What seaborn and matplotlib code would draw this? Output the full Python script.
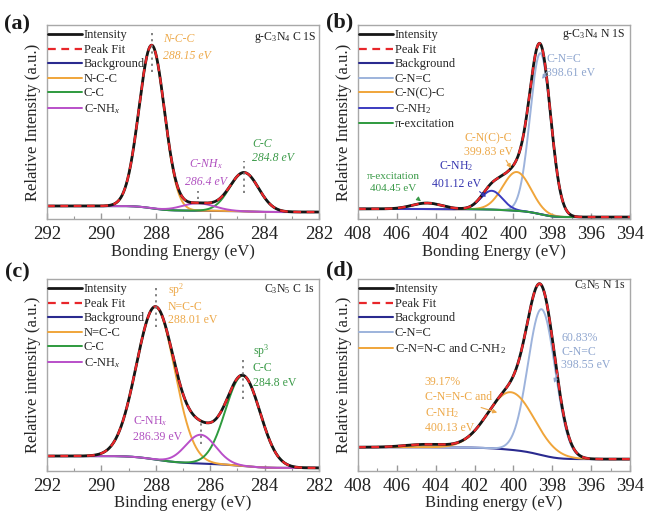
import numpy as np
import pandas as pd
import matplotlib
matplotlib.use('Agg')
import matplotlib.pyplot as plt
import seaborn as sns
from matplotlib.ticker import MultipleLocator

sns.set_theme(style='white')
plt.rcParams['font.family'] = ['Liberation Serif', 'DejaVu Serif']
plt.rcParams['mathtext.fontset'] = 'custom'
plt.rcParams['mathtext.rm'] = 'Liberation Serif'
plt.rcParams['mathtext.it'] = 'Liberation Serif:italic'
plt.rcParams['mathtext.bf'] = 'Liberation Serif:bold'

# ---------------- data (peak-fit parameters) ----------------
# (a) g-C3N4 C 1S
a_names = ['N-C-C', 'C-C', 'C-NH$_x$']
a_centers = [288.15, 284.75, 286.45]
a_heights = [84.0, 20.0, 3.8]
a_fwhm = [1.1, 1.25, 1.4]
a_bg = [6.7, 3.6]            # high-BE level, low-BE level
a_range = [292, 282]

# (b) g-C3N4 N 1S
b_names = ['C-N=C', 'C-N(C)-C', 'C-NH$_2$', 'π-excitation']
b_centers = [398.61, 399.83, 401.12, 404.45]
b_heights = [83.0, 20.0, 9.7, 3.1]
b_fwhm = [1.25, 1.7, 1.3, 1.8]
b_bg = [5.2, 1.0]
b_range = [408, 394]

# (c) C3N5 C 1s
c_names = ['N=C-C', 'C-C', 'C-NH$_x$']
c_centers = [288.01, 284.8, 286.35]
c_heights = [79.5, 47.0, 15.0]
c_fwhm = [1.65, 1.5, 1.3]
c_bg = [7.8, 1.6]
c_range = [292, 282]

# (d) C3N5 N 1s
d_names = ['C-N=C', 'C-N=N-C and C-NH$_2$']
d_centers = [398.55, 400.13]
d_heights = [76.0, 30.0]
d_fwhm = [1.65, 2.8]
d_extra = [404.5, 1.5, 2.5]  # small unassigned bump included only in the fit sum
d_bg = [12.4, 6.2]
d_range = [408, 394]

COL = {
    'int': '#161616', 'fit': '#e8262a', 'bg': '#2a2a8f',
    'orange': '#f0a53a', 'green': '#2e9a3e', 'magenta': '#b94fc9',
    'lblue': '#9db3dc', 'blue': '#3b3bc0',
}
TXT = {'orange': '#eda94a', 'green': '#3a9a48', 'magenta': '#b050c0',
       'lblue': '#8fa6cf', 'blue': '#3535b0'}


def gauss(x, c, h, w):
    return h * np.exp(-4 * np.log(2) * ((x - c) / w) ** 2)


def model(rng, centers, heights, fwhms, bg, extra=None):
    x = np.linspace(rng[0], rng[1], 800)
    comps = [gauss(x, c, h, w) for c, h, w in zip(centers, heights, fwhms)]
    tot = np.sum(comps, axis=0)
    if extra is not None:
        tot = tot + gauss(x, *extra)
    order = np.argsort(x)
    cum = np.cumsum(tot[order])
    frac = cum / cum[-1]
    bgv = np.empty_like(x)
    bgv[order] = bg[1] + (bg[0] - bg[1]) * frac
    return x, comps, bgv, bgv + tot


fig = plt.figure(figsize=(6.46, 5.15), dpi=100)
W, H = 646, 515


def make_ax(l, r, t, b):
    return fig.add_axes([l / W, 1 - b / H, (r - l) / W, (b - t) / H])


ax_a = make_ax(47, 319, 25, 219)
ax_b = make_ax(358, 630, 25, 219)
ax_c = make_ax(47, 319, 279, 471)
ax_d = make_ax(358, 630, 279, 471)


def draw(ax, rng, names, centers, heights, fwhms, bg, colors, extra=None):
    x, comps, bgv, tot = model(rng, centers, heights, fwhms, bg, extra)
    sns.lineplot(x=x, y=bgv, ax=ax, color=COL['bg'], lw=1.5, label='Background',
                 sort=False, estimator=None)
    for comp, nm, cl in zip(comps, names, colors):
        sns.lineplot(x=x, y=comp + bgv, ax=ax, color=COL[cl], lw=1.4, label=nm,
                     sort=False, estimator=None)
    sns.lineplot(x=x, y=tot, ax=ax, color=COL['int'], lw=2.0, label='Intensity',
                 sort=False, estimator=None)
    sns.lineplot(x=x, y=tot, ax=ax, color=COL['fit'], lw=1.6, label='Peak Fit',
                 sort=False, estimator=None, linestyle=(0, (3.5, 2.5)))
    h, l = ax.get_legend_handles_labels()
    want = ['Intensity', 'Peak Fit', 'Background'] + names
    hh = [h[l.index(w)] for w in want]
    ax.legend(hh, want, loc='upper left', frameon=False, fontsize=9,
              handlelength=2.7, handletextpad=0.15, labelspacing=0.2,
              borderaxespad=0.0, borderpad=0.35, bbox_to_anchor=(-0.012, 1.0))
    ax.set_xlim(rng[0], rng[1])
    ax.set_ylim(0, 100)
    ax.set_yticks([])
    ax.xaxis.set_major_locator(MultipleLocator(2))
    ax.xaxis.set_minor_locator(MultipleLocator(1))
    ax.tick_params(axis='x', which='both', direction='in', bottom=True, top=False,
                   colors='#999999', labelcolor='#222222', labelsize=13.5, pad=5)
    ax.tick_params(axis='x', which='major', length=4, width=1)
    ax.tick_params(axis='x', which='minor', length=2.5, width=0.8)
    for s in ax.spines.values():
        s.set_color('#a8a8a8')
        s.set_linewidth(1.0)
    return x, tot, bgv


def vdots(ax, c, lo, hi):
    ax.vlines(c, lo, hi, colors='#777777', linestyles=(0, (1.2, 2.2)), lw=1.3)


# ---------- (a) ----------
draw(ax_a, a_range, a_names, a_centers, a_heights, a_fwhm, a_bg,
     ['orange', 'green', 'magenta'])
ax_a.set_xlabel('Bonding Energy (eV)', fontsize=12, labelpad=1)
ax_a.set_ylabel('Relative Intensity (a.u.)', fontsize=12, labelpad=4)
ax_a.text(0.99, 0.935, 'g-C$_3$N$_4$ C 1S', transform=ax_a.transAxes, ha='right',
          va='center', fontsize=8.5, color='#222222')
ax_a.text(287.75, 88.5, 'N-C-C\n288.15 eV', color=TXT['orange'], fontsize=8.5,
          style='italic', ha='left', va='center', linespacing=1.6)
ax_a.text(286.15, 24, 'C-NH$_x$\n286.4 eV', color=TXT['magenta'], fontsize=8.5,
          style='italic', ha='center', va='center', linespacing=1.6)
ax_a.text(284.46, 35, 'C-C\n284.8 eV', color=TXT['green'], fontsize=8.5,
          style='italic', ha='left', va='center', linespacing=1.3)
vdots(ax_a, a_centers[0], 76, 98)
vdots(ax_a, a_centers[2], 10.5, 14.5)
vdots(ax_a, a_centers[1], 13.5, 30)

# ---------- (b) ----------
draw(ax_b, b_range, b_names, b_centers, b_heights, b_fwhm, b_bg,
     ['lblue', 'orange', 'blue', 'green'])
ax_b.set_xlabel('Bonding Energy (eV)', fontsize=12, labelpad=1)
ax_b.set_ylabel('Relative Intensity (a.u.)', fontsize=12, labelpad=4)
ax_b.text(0.982, 0.953, 'g-C$_3$N$_4$ N 1S', transform=ax_b.transAxes, ha='right',
          va='center', fontsize=8.5, color='#222222')
ax_b.text(398.3, 79, 'C-N=C\n398.61 eV', color=TXT['lblue'], fontsize=8.5,
          ha='left', va='center', linespacing=1.25)
ax_b.annotate('', xy=(398.6, 71), xytext=(398.2, 77),
              arrowprops=dict(arrowstyle='-|>', color=TXT['lblue'], lw=0.8,
                              mutation_scale=6))
ax_b.text(401.3, 38, 'C-N(C)-C\n399.83 eV', color=TXT['orange'], fontsize=8.5,
          ha='center', va='center', linespacing=1.25)
ax_b.annotate('', xy=(400.05, 25), xytext=(400.45, 31.5),
              arrowprops=dict(arrowstyle='-|>', color=TXT['orange'], lw=0.8,
                              mutation_scale=6))
ax_b.text(402.95, 23, 'C-NH$_2$\n401.12 eV', color=TXT['blue'], fontsize=8.5,
          ha='center', va='center', linespacing=1.5)
ax_b.annotate('', xy=(401.3, 10.5), xytext=(401.85, 15),
              arrowprops=dict(arrowstyle='-|>', color=TXT['blue'], lw=0.8,
                              mutation_scale=6))
ax_b.text(406.2, 19, 'π-excitation\n404.45 eV', color=TXT['green'], fontsize=8,
          ha='center', va='center', linespacing=1.4)
ax_b.annotate('', xy=(404.65, 8.2), xytext=(405.05, 11.5),
              arrowprops=dict(arrowstyle='-|>', color=TXT['green'], lw=0.8,
                              mutation_scale=6))

# ---------- (c) ----------
draw(ax_c, c_range, c_names, c_centers, c_heights, c_fwhm, c_bg,
     ['orange', 'green', 'magenta'])
ax_c.set_xlabel('Binding energy (eV)', fontsize=12, labelpad=0)
ax_c.set_ylabel('Relative intensity (a.u.)', fontsize=12, labelpad=4)
ax_c.text(0.985, 0.948, 'C$_3$N$_5$ C 1s', transform=ax_c.transAxes, ha='right',
          va='center', fontsize=8.5, color='#222222')
ax_c.text(287.55, 87, 'sp$^2$\nN=C-C\n288.01 eV', color=TXT['orange'], fontsize=8.5,
          ha='left', va='center', linespacing=1.15)
ax_c.text(288.84, 22.3, 'C-NH$_x$\n286.39 eV', color=TXT['magenta'], fontsize=8.5,
          ha='left', va='center', linespacing=1.35)
ax_c.text(284.43, 55, 'sp$^3$\nC-C\n284.8 eV', color=TXT['green'], fontsize=8.5,
          ha='left', va='center', linespacing=1.3)
vdots(ax_c, c_centers[0], 75, 96)
vdots(ax_c, c_centers[2], 14, 25)
vdots(ax_c, c_centers[1], 37.5, 58.5)

# ---------- (d) ----------
draw(ax_d, d_range, d_names, d_centers, d_heights, d_fwhm, d_bg,
     ['lblue', 'orange'], extra=d_extra)
ax_d.set_xlabel('Binding energy (eV)', fontsize=12, labelpad=0)
ax_d.set_ylabel('Relative intensity (a.u.)', fontsize=12, labelpad=4)
ax_d.text(0.985, 0.969, 'C$_3$N$_5$ N 1s', transform=ax_d.transAxes, ha='right',
          va='center', fontsize=8.5, color='#222222')
ax_d.text(397.55, 62.2, '60.83%\nC-N=C\n398.55 eV', color=TXT['lblue'], fontsize=8.5,
          ha='left', va='center', linespacing=1.2)
ax_d.annotate('', xy=(397.95, 44.5), xytext=(397.7, 52),
              arrowprops=dict(arrowstyle='-|>', color=TXT['lblue'], lw=0.8,
                              mutation_scale=6))
ax_d.text(404.57, 34.2, '39.17%\nC-N=N-C and\nC-NH$_2$\n400.13 eV', color=TXT['orange'],
          fontsize=8.5, ha='left', va='center', linespacing=1.3)
ax_d.annotate('', xy=(400.7, 30), xytext=(401.8, 33.5),
              arrowprops=dict(arrowstyle='-|>', color=TXT['orange'], lw=0.8,
                              mutation_scale=6))

# panel labels
for lab, px, py in [('(a)', 4, 24), ('(b)', 326, 22), ('(c)', 5, 272), ('(d)', 326, 270)]:
    fig.text(px / W, 1 - py / H, lab, fontsize=16, fontweight='bold', ha='left',
             va='center', color='#1a1a1a')

fig.savefig('out.png', dpi=100)
